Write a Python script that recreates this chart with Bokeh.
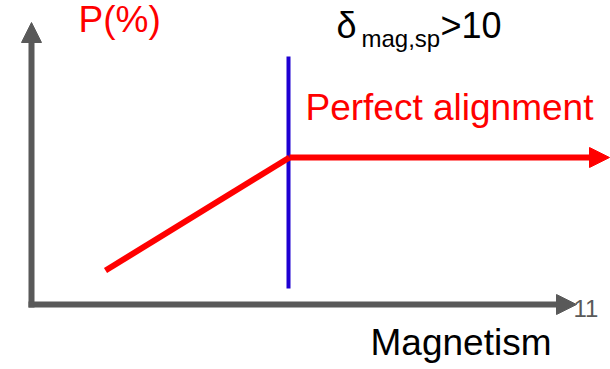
from bokeh.plotting import figure
from bokeh.models import Range1d, Arrow, NormalHead, ColumnDataSource
from bokeh.core.properties import value
from bokeh.embed import file_html
from bokeh.resources import INLINE

# Schematic of polarization P(%) versus magnetism (canvas units, y grows downward)
axis_origin = [31, 304]
y_axis_top = 22
x_axis_end = 576

# Rising part of the polarization curve, then the plateau of perfect alignment
ramp_x = [105, 289]
ramp_y = [270, 157]
plateau_x = [289, 609]
plateau_y = [157, 157]

# Threshold marker where delta_mag,sp > 10
threshold_x = [288, 288]
threshold_y = [56, 288]

FONT = "Liberation Sans"
RED = "#FF0000"
GREY = "#595959"
BLUE = "#1E00D2"

p = figure(width=610, height=369, output_backend="svg", toolbar_location=None,
           x_range=Range1d(0, 610), y_range=Range1d(369, 0),
           min_border=0, outline_line_color=None)
p.axis.visible = False
p.grid.visible = False

# Axes drawn as arrows
p.add_layout(Arrow(end=NormalHead(size=20, fill_color=GREY, line_color=GREY, line_width=1),
                   x_start=axis_origin[0], y_start=axis_origin[1] + 3,
                   x_end=axis_origin[0], y_end=y_axis_top,
                   line_color=GREY, line_width=6))
p.add_layout(Arrow(end=NormalHead(size=20, fill_color=GREY, line_color=GREY, line_width=1),
                   x_start=axis_origin[0] - 3, y_start=axis_origin[1],
                   x_end=x_axis_end, y_end=axis_origin[1],
                   line_color=GREY, line_width=6))

# Threshold line
p.line(threshold_x, threshold_y, line_color=BLUE, line_width=4)

# Polarization curve
p.line(ramp_x, ramp_y, line_color=RED, line_width=6)
p.add_layout(Arrow(end=NormalHead(size=20, fill_color=RED, line_color=RED, line_width=1),
                   x_start=plateau_x[0], y_start=plateau_y[0],
                   x_end=plateau_x[1], y_end=plateau_y[1],
                   line_color=RED, line_width=6))

# Labels
labels = ColumnDataSource(dict(
    x=[78, 305, 370],
    y=[19, 107, 342],
    text=["P(%)", "Perfect alignment", "Magnetism"],
    color=[RED, RED, "#000000"],
))
p.text(x="x", y="y", text="text", source=labels, text_color="color",
       text_font=value(FONT), text_font_size="37px",
       text_align="left", text_baseline="alphabetic")

p.text(x=[336], y=[25], text=["δ"], text_color="#000000",
       text_font=value(FONT), text_font_size="36px", text_baseline="alphabetic")
p.text(x=[361], y=[38], text=["mag,sp"], text_color="#000000",
       text_font=value(FONT), text_font_size="24px", text_baseline="alphabetic")
p.text(x=[440], y=[25], text=[">10"], text_color="#000000",
       text_font=value(FONT), text_font_size="36px", text_baseline="alphabetic")

# Page number next to the x-axis arrow
p.text(x=[573], y=[308], text=["11"], text_color=GREY,
       text_font=value(FONT), text_font_size="24px", text_baseline="alphabetic")

open("out.html", "w").write(file_html(p, INLINE))
